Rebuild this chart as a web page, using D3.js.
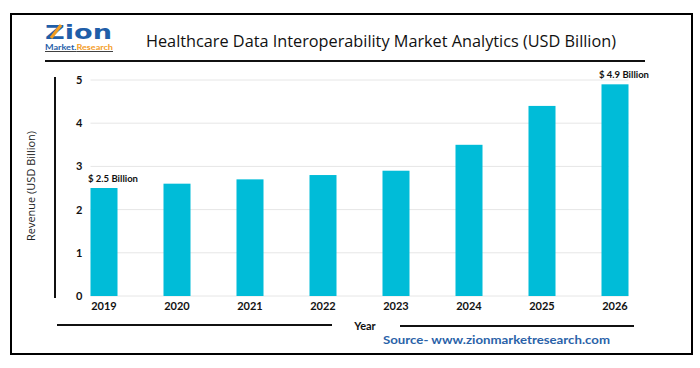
<!DOCTYPE html>
<html>
<head>
<meta charset="utf-8">
<script src="https://cdn.jsdelivr.net/npm/d3@7"></script>
<style>
html,body{margin:0;padding:0;background:#fff;}
svg{display:block;}
</style>
</head>
<body>
<svg id="chart" width="700" height="368"></svg>
<script>
const years = ["2019","2020","2021","2022","2023","2024","2025","2026"];
const revenue = [2.5, 2.6, 2.7, 2.8, 2.9, 3.5, 4.4, 4.9];
const yTicks = [0, 1, 2, 3, 4, 5];
const annotations = [{year:"2019", text:"$ 2.5 Billion"}, {year:"2026", text:"$ 4.9 Billion"}];
const titleText = "Healthcare Data Interoperability Market Analytics (USD Billion)";
const yTitle = "Revenue (USD Billion)";
const xTitle = "Year";
const sourceText = "Source- www.zionmarketresearch.com";

const svg = d3.select("#chart");
const font = "Lato, 'Open Sans', sans-serif";
const barColor = "#00bcd8";

// outer frame
svg.append("rect").attr("x",11).attr("y",14).attr("width",681).attr("height",340)
  .attr("fill","none").attr("stroke","#000").attr("stroke-width",2);

// logo
const logo = svg.append("g");
logo.append("text").attr("x",45).attr("y",39).attr("font-family","'DejaVu Sans', sans-serif")
  .attr("font-weight",900).attr("font-size",20).attr("fill","#1f5ea8").attr("textLength",67).attr("lengthAdjust","spacingAndGlyphs").text("Zion");
logo.append("line").attr("x1",51).attr("y1",38).attr("x2",61).attr("y2",25).attr("stroke","#f39c1f").attr("stroke-width",3);
const lt = logo.append("text").attr("x",45).attr("y",50).attr("font-family",font).attr("font-weight",700).attr("font-size",7.5)
  .attr("textLength",68).attr("lengthAdjust","spacingAndGlyphs").attr("text-decoration","underline");
lt.append("tspan").attr("fill","#1f5ea8").text("Market.");
lt.append("tspan").attr("fill","#f39c1f").text("Research");

// title
svg.append("text").attr("x",146).attr("y",47).attr("font-family","'Open Sans', sans-serif").attr("font-size",16)
  .attr("fill","#111").attr("textLength",470).attr("lengthAdjust","spacingAndGlyphs").text(titleText);
svg.append("line").attr("x1",45).attr("x2",645).attr("y1",61).attr("y2",61).attr("stroke","#111").attr("stroke-width",2);

// scales
const x = d3.scaleBand().domain(years).range([67.5, 651.5]).paddingInner(0.63).paddingOuter(0.315);
const y = d3.scaleLinear().domain([0,5]).range([296, 80]);

const gx0 = x(years[0]), gx1 = x(years[years.length-1]) + x.bandwidth();

// gridlines
svg.append("g").selectAll("line").data(yTicks).join("line")
  .attr("x1",gx0).attr("x2",gx1).attr("y1",d=>y(d)).attr("y2",d=>y(d))
  .attr("stroke","#e6e6e6").attr("stroke-width",1);

// y axis labels
const yAxis = d3.axisLeft(y).tickValues(yTicks).tickSize(0).tickPadding(0).tickFormat(d3.format("d"));
const gy = svg.append("g").attr("transform",`translate(${gx0-8},0)`).call(yAxis);
gy.select(".domain").remove();
gy.selectAll("text").attr("font-family",font).attr("font-weight",700).attr("font-size",11).attr("fill","#111");

// bars
svg.append("g").selectAll("rect").data(years.map((yr,i)=>({yr, v:revenue[i]}))).join("rect")
  .attr("x",d=>x(d.yr)).attr("width",x.bandwidth())
  .attr("y",d=>y(d.v)).attr("height",d=>y(0)-y(d.v)).attr("fill",barColor);

// x axis labels
const xAxis = d3.axisBottom(x).tickSize(0).tickPadding(6);
const gxa = svg.append("g").attr("transform",`translate(0,${y(0)})`).call(xAxis);
gxa.select(".domain").remove();
gxa.selectAll("text").attr("font-family",font).attr("font-weight",700).attr("font-size",11).attr("fill","#111");

// annotations
svg.append("g").selectAll("text").data(annotations).join("text")
  .attr("x",d=>x(d.year)+x.bandwidth()/2 + 9).attr("y",d=>y(revenue[years.indexOf(d.year)]) - 6)
  .attr("text-anchor","middle").attr("font-family",font).attr("font-weight",700).attr("font-size",9.5)
  .attr("fill","#111").text(d=>d.text);

// y axis side line and title
svg.append("line").attr("x1",55).attr("x2",55).attr("y1",77).attr("y2",298).attr("stroke","#111").attr("stroke-width",2);
svg.append("text").attr("transform","translate(35,186) rotate(-90)").attr("text-anchor","middle")
  .attr("font-family","'Open Sans', sans-serif").attr("font-size",11).attr("fill","#222").text(yTitle);

// x axis title lines
svg.append("line").attr("x1",57).attr("x2",332).attr("y1",325).attr("y2",325).attr("stroke","#111").attr("stroke-width",2);
svg.append("line").attr("x1",400).attr("x2",634).attr("y1",326).attr("y2",326).attr("stroke","#111").attr("stroke-width",2);
svg.append("text").attr("x",365).attr("y",330).attr("text-anchor","middle").attr("font-family",font)
  .attr("font-weight",700).attr("font-size",11).attr("fill","#111").text(xTitle);

// source
svg.append("text").attr("x",383).attr("y",344).attr("font-family",font).attr("font-weight",700)
  .attr("font-size",12).attr("fill","#2a62a8").attr("textLength",227).attr("lengthAdjust","spacingAndGlyphs").text(sourceText);
</script>
</body>
</html>
